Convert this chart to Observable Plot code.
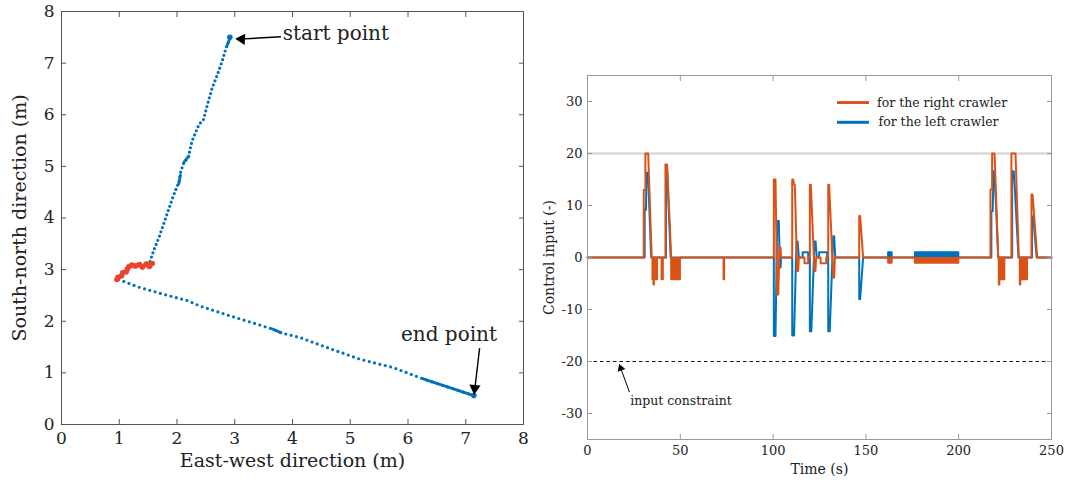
<!DOCTYPE html>
<html><head><meta charset="utf-8">
<script src="https://cdn.jsdelivr.net/npm/d3@7"></script>
<script src="https://cdn.jsdelivr.net/npm/@observablehq/plot@0.6"></script>
<style>
html,body{margin:0;padding:0;background:#fff;}
#wrap{position:relative;width:1066px;height:486px;overflow:hidden;background:#fff;}
#left{position:absolute;left:0;top:0;}
#right{position:absolute;left:540px;top:0;}
</style></head><body><div id="wrap"><div id="left"></div><div id="right"></div></div>
<script>
// ---------- Left panel data (East-west, South-north in m) ----------
const leftTicks = [0, 1, 2, 3, 4, 5, 6, 7, 8];
const upperLeg = [[2.915,7.48],[2.84,7.26],[2.78,7.03],[2.70,6.78],[2.61,6.52],[2.55,6.29],[2.49,6.04],[2.46,5.91],[2.38,5.81],[2.32,5.65],[2.26,5.49],[2.22,5.30],[2.20,5.17],[2.12,5.08],[2.06,4.88],[2.03,4.69],[1.94,4.44],[1.86,4.18],[1.77,3.89],[1.69,3.63],[1.60,3.38],[1.53,3.15]];
const turnSegment = [[1.57,3.12],[1.52,3.06],[1.47,3.11],[1.40,3.05],[1.35,3.10],[1.28,3.07],[1.22,3.09],[1.17,3.06],[1.14,3.01],[1.12,2.96],[1.06,2.94],[1.04,2.88],[0.98,2.85],[0.96,2.81]];
const lowerLeg = [[0.99,2.81],[1.31,2.67],[1.71,2.54],[2.18,2.40],[2.41,2.29],[2.93,2.10],[3.22,2.00],[3.68,1.84],[3.79,1.78],[4.14,1.68],[4.60,1.49],[5.18,1.26],[5.75,1.10],[6.27,0.88],[7.14,0.56]];
const denseStretches = [
  [[2.93,7.52],[2.86,7.32]],
  [[2.06,4.83],[2.03,4.66]],
  [[2.20,5.20],[2.12,5.08]],
  [[3.65,1.85],[3.80,1.78]],
  [[6.25,0.89],[7.14,0.56]]
];
const startPoint = [2.915, 7.5];
const endPoint = [7.14, 0.56];

// ---------- Right panel data (control input vs time) ----------
const timeTicks = [0, 50, 100, 150, 200, 250];
const inputTicks = [-30, -20, -10, 0, 10, 20, 30];
const inputLimit = 20;
const rightCrawler = [
[0,0],[30.3,0],[30.3,13],[31.2,13],[31.2,20],[32.7,20],[34.6,0],
[35.0,0],[35.0,-4.2],[35.3,-4.2],[35.3,0],
[35.5,0],[35.5,-5.2],[35.8,-5.2],[35.8,0],
[36.3,0],[36.3,-4.2],[36.6,-4.2],[36.6,0],
[37.2,0],[37.2,-4.2],[37.5,-4.2],[37.5,0],
[39.9,0],[39.9,-4.2],[40.6,-4.2],[40.6,0],
[42.0,0],[42.0,17.9],[42.9,17.9],[45.1,0],
[45.1,-4.2],[49.8,-4.2],[49.8,0],
[73.3,0],[73.3,-4.2],[73.6,-4.2],[73.6,0],
[100.4,0],[100.4,15],[101.3,15],[102.2,-7.1],[102.8,-7.1],[103.4,1.9],[104.0,1.9],[104.3,0],
[110.3,0],[110.3,15],[110.8,15],[111.3,14],[111.7,14],[113.0,-2.6],[113.5,-2.6],[113.9,0],
[116.9,0],[116.9,-1.1],[118.9,-1.1],[118.9,0],
[119.8,0],[119.8,14],[120.3,14],[122.3,-2.6],[122.8,-2.6],[123.2,0],
[125.6,0],[125.6,-1.1],[128.6,-1.1],[128.6,0],
[129.7,0],[129.7,14],[130.2,14],[132.4,-3.9],[132.9,-3.9],[133.3,0],
[146.4,0],[146.4,8],[146.9,8],[148.5,0],
[162.0,0],[162.0,-1],[163.9,-1],[163.9,0],
[176.4,0],[176.4,-1],[199.8,-1],[199.8,0],
[217.1,0],[217.1,13.1],[218.0,13.1],[218.0,20],[219.3,20],[221.3,0],
[221.6,0],[221.6,-5.2],[221.9,-5.2],[221.9,0],
[222.5,0],[222.5,-4.2],[222.8,-4.2],[222.8,0],
[223.4,0],[223.4,-4.2],[223.7,-4.2],[223.7,0],
[224.3,0],[224.3,-4.2],[224.6,-4.2],[224.6,0],
[228.4,0],[228.4,20],[230.6,20],[232.4,0],
[232.9,0],[232.9,-5.2],[233.2,-5.2],[233.2,0],
[233.8,0],[233.8,-4.2],[234.1,-4.2],[234.1,0],
[234.7,0],[234.7,-4.2],[235.0,-4.2],[235.0,0],
[235.6,0],[235.6,-4.2],[235.9,-4.2],[235.9,0],
[236.5,0],[236.5,-4.2],[236.8,-4.2],[236.8,0],
[239.2,0],[239.2,12.1],[239.8,12.1],[242.3,0],[250,0]
];
const leftCrawler = [
[0,0],[30.8,0],[30.8,9.2],[31.5,9.2],[31.8,16.3],[32.6,16.3],[34.3,0],
[42.3,0],[42.3,17],[42.9,17],[44.8,0],
[100.4,0],[100.4,-15.1],[101.3,-15.1],[102.2,7],[103.1,7],[103.6,-1.9],[104.0,-1.9],[104.3,0],
[110.3,0],[110.3,-15],[111.3,-15],[112.6,3.1],[113.2,3.1],[113.9,0],
[115.9,0],[115.9,1],[118.9,1],[118.9,0],
[119.8,0],[119.8,-14.2],[120.6,-14.2],[122.3,3.1],[122.9,3.1],[123.5,0],
[124.8,0],[124.8,1],[129.1,1],[129.1,0],
[129.7,0],[129.7,-14.2],[130.5,-14.2],[132.4,4.1],[132.9,4.1],[133.5,0],
[146.4,0],[146.4,-8],[146.9,-8],[148.5,0],
[162.0,0],[162.0,1],[163.9,1],[163.9,0],
[176.4,0],[176.4,1],[199.8,1],[199.8,0],
[217.6,0],[217.6,8.9],[218.3,8.9],[218.8,16.6],[219.3,16.6],[221.3,0],
[228.8,0],[228.8,16.6],[229.6,16.6],[230.2,13.7],[232.2,0],
[239.5,0],[239.5,7.9],[240.1,7.9],[242.0,0],[250,0]
];
// dense chattering intervals (t start, t end) and the sustained negative block of the right crawler
const chatterIntervals = [[162.0,163.9],[176.4,199.8]];
const rightNegBlocks = [[45.1,49.8,-4.2]];
const seriesNames = ["for the right crawler", "for the left crawler"];

const BLUE = "#0072BD", ORANGE = "#D95319", RED = "#E8452C";
const SERIF = "'DejaVu Serif', 'Liberation Serif', serif";
const px = d => d[0], py = d => d[1];
const plain = d => String(d);

// ---------- Left chart ----------
const leftChart = Plot.plot({
  width: 540, height: 486,
  marginLeft: 61, marginRight: 17, marginTop: 11, marginBottom: 62,
  x: {domain: [0, 8]}, y: {domain: [0, 8]},
  style: {fontFamily: SERIF, fontSize: "16px", color: "#222", background: "#fff", overflow: "visible"},
  marks: [
    Plot.frame({stroke: "#555", strokeWidth: 1}),
    Plot.axisX(leftTicks, {anchor: "bottom", tickSize: -5, tickPadding: 12, stroke: "#555", fontSize: 17, tickFormat: plain, label: null}),
    Plot.axisX(leftTicks, {anchor: "top", tickSize: -5, tickFormat: () => "", stroke: "#555", label: null}),
    Plot.axisY(leftTicks, {anchor: "left", tickSize: -5, tickPadding: 12, stroke: "#555", fontSize: 17, tickFormat: plain, label: null}),
    Plot.axisY(leftTicks, {anchor: "right", tickSize: -5, tickFormat: () => "", stroke: "#555", label: null}),
    Plot.line(upperLeg, {x: px, y: py, stroke: BLUE, strokeWidth: 3.2, strokeDasharray: "0 4.5", strokeLinecap: "round"}),
    Plot.line(lowerLeg, {x: px, y: py, stroke: BLUE, strokeWidth: 3.2, strokeDasharray: "0 5.5", strokeLinecap: "round"}),
    ...denseStretches.map(s => Plot.line(s, {x: px, y: py, stroke: BLUE, strokeWidth: 2.8, strokeLinecap: "round"})),
    Plot.line(turnSegment, {x: px, y: py, stroke: RED, strokeWidth: 4.5, strokeLinecap: "round", strokeLinejoin: "round"}),
    Plot.dot(turnSegment, {x: px, y: py, r: 2.8, fill: RED}),
    Plot.dot([startPoint, endPoint], {x: px, y: py, r: 2.8, fill: BLUE}),
    // annotation arrows (shaft + filled head)
    Plot.link([0], {x1: 3.80, y1: 7.51, x2: 3.08, y2: 7.465, stroke: "#000", strokeWidth: 1.4}),
    Plot.dot([0], {x: 3.12, y: 7.465, symbol: "triangle", r: 4.2, rotate: -87, fill: "#000"}),
    Plot.link([0], {x1: 7.24, y1: 1.48, x2: 7.158, y2: 0.70, stroke: "#000", strokeWidth: 1.4}),
    Plot.dot([0], {x: 7.155, y: 0.70, symbol: "triangle", r: 4.2, rotate: 185, fill: "#000"}),
    Plot.text(["start point"], {x: 3.83, y: 7.58, text: d => d, textAnchor: "start", fontSize: 20, fill: "#222"}),
    Plot.text(["end point"], {x: 6.71, y: 1.75, text: d => d, textAnchor: "middle", fontSize: 20, fill: "#222"}),
    Plot.text(["East-west direction (m)"], {frameAnchor: "bottom", dy: 42, text: d => d, textAnchor: "middle", fontSize: 19, fill: "#222"}),
    Plot.text(["South-north direction (m)"], {frameAnchor: "left", dx: -42, rotate: -90, text: d => d, textAnchor: "middle", fontSize: 19, fill: "#222"})
  ]
});
document.getElementById("left").appendChild(leftChart);

// ---------- Right chart ----------
const tx = d => d[0], vy = d => d[1];
const rightChart = Plot.plot({
  width: 526, height: 486,
  marginLeft: 47, marginRight: 15, marginTop: 75, marginBottom: 47,
  x: {domain: [0, 250]}, y: {domain: [-35, 35]},
  style: {fontFamily: SERIF, fontSize: "13px", color: "#222", background: "#fff", overflow: "visible"},
  marks: [
    Plot.ruleY([inputLimit], {stroke: "#d9d9d9", strokeWidth: 2.5}),
    Plot.ruleY([-inputLimit], {stroke: "#111", strokeWidth: 1, strokeDasharray: "3.5 3"}),
    Plot.rect(chatterIntervals, {x1: d => d[0], x2: d => d[1], y1: 0, y2: 1, fill: BLUE}),
    Plot.line(leftCrawler, {x: tx, y: vy, stroke: BLUE, strokeWidth: 2, strokeLinejoin: "round"}),
    Plot.rect(chatterIntervals, {x1: d => d[0], x2: d => d[1], y1: -1, y2: 0, fill: ORANGE}),
    Plot.rect(rightNegBlocks, {x1: d => d[0], x2: d => d[1], y1: d => d[2], y2: 0, fill: ORANGE}),
    Plot.line(rightCrawler, {x: tx, y: vy, stroke: ORANGE, strokeWidth: 2, strokeLinejoin: "round"}),
    Plot.frame({stroke: "#999", strokeWidth: 1}),
    Plot.axisX(timeTicks, {anchor: "bottom", tickSize: -5, tickPadding: 11, stroke: "#999", fontSize: 13, tickFormat: plain, label: null}),
    Plot.axisX(timeTicks, {anchor: "top", tickSize: -5, tickFormat: () => "", stroke: "#999", label: null}),
    Plot.axisY(inputTicks, {anchor: "left", tickSize: -5, tickPadding: 10, stroke: "#999", fontSize: 13, tickFormat: plain, label: null}),
    Plot.axisY(inputTicks, {anchor: "right", tickSize: -5, tickFormat: () => "", stroke: "#999", label: null}),
    // legend
    Plot.ruleY([0], {y: 29.8, x1: 134.7, x2: 151.9, stroke: ORANGE, strokeWidth: 3}),
    Plot.ruleY([0], {y: 26.0, x1: 134.7, x2: 151.9, stroke: BLUE, strokeWidth: 3}),
    Plot.text([seriesNames[0]], {x: 156.0, y: 29.8, text: d => d, textAnchor: "start", fontSize: 12.5, fill: "#222"}),
    Plot.text([seriesNames[1]], {x: 156.8, y: 26.0, text: d => d, textAnchor: "start", fontSize: 12.5, fill: "#222"}),
    // constraint annotation
    Plot.link([0], {x1: 22.6, y1: -25.9, x2: 18.0, y2: -21.4, stroke: "#000", strokeWidth: 1}),
    Plot.dot([0], {x: 17.9, y: -21.3, symbol: "triangle", r: 3, rotate: -20, fill: "#000"}),
    Plot.text(["input constraint"], {x: 23.0, y: -27.6, text: d => d, textAnchor: "start", fontSize: 12.5, fill: "#222"}),
    Plot.text(["Time (s)"], {frameAnchor: "bottom", dy: 34, text: d => d, textAnchor: "middle", fontSize: 14, fill: "#222"}),
    Plot.text(["Control input (-)"], {frameAnchor: "left", dx: -38, rotate: -90, text: d => d, textAnchor: "middle", fontSize: 14, fill: "#222"})
  ]
});
document.getElementById("right").appendChild(rightChart);
</script></body></html>
